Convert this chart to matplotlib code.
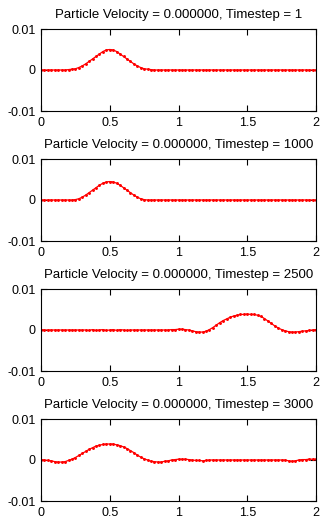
import numpy as np
import matplotlib
matplotlib.use("Agg")
import matplotlib.pyplot as plt

plt.rcParams['font.family'] = ['Liberation Sans', 'DejaVu Sans']
plt.rcParams['axes.unicode_minus'] = False

x = np.round(np.arange(0, 81) * 0.025, 3)

titles = [
    "Particle Velocity = 0.000000, Timestep = 1",
    "Particle Velocity = 0.000000, Timestep = 1000",
    "Particle Velocity = 0.000000, Timestep = 2500",
    "Particle Velocity = 0.000000, Timestep = 3000",
]

y_t1 = [
    0, 0, 0, 0, 0, 0, 0, 0, 0.0001, 0.0002,
    0.0003, 0.0006, 0.0010, 0.0015, 0.0021, 0.0027, 0.0033, 0.0039, 0.0045, 0.0049,
    0.0050, 0.0049, 0.0045, 0.0039, 0.0033, 0.0027, 0.0021, 0.0015, 0.0010, 0.0006,
    0.0003, 0.0002, 0.0001, 0, 0, 0, 0, 0, 0, 0,
    0, 0, 0, 0, 0, 0, 0, 0, 0, 0,
    0, 0, 0, 0, 0, 0, 0, 0, 0, 0,
    0, 0, 0, 0, 0, 0, 0, 0, 0, 0,
    0, 0, 0, 0, 0, 0, 0, 0, 0, 0,
    0,
]

y_t1000 = [
    0, 0, 0, 0, 0, 0, 0, 0, 0, 0,
    0.0001, 0.0003, 0.0007, 0.0012, 0.0018, 0.0024, 0.0030, 0.0036, 0.0041, 0.0044,
    0.0045, 0.0044, 0.0041, 0.0036, 0.0030, 0.0024, 0.0018, 0.0012, 0.0007, 0.0003,
    0.0001, 0, 0, 0, 0, 0, 0, 0, 0, 0,
    0, 0, 0, 0, 0, 0, 0, 0, 0, 0,
    0, 0, 0, 0, 0, 0, 0, 0, 0, 0,
    0, 0, 0, 0, 0, 0, 0, 0, 0, 0,
    0, 0, 0, 0, 0, 0, 0, 0, 0, 0,
    0,
]

y_t2500 = [
    0.0001, 0, 0, 0, 0, 0, 0, 0, 0, 0,
    0, 0, 0, 0, -0.0001, 0.0001, -0.0001, 0, 0.0001, -0.0001,
    0, 0.0001, -0.0001, 0.0001, 0, -0.0001, 0, 0, 0, 0,
    0, 0, 0, 0, 0, 0, 0, 0, 0.0001, 0.0001,
    0.0002, 0.0002, 0.0001, 0, -0.0002, -0.0004, -0.0005, -0.0005, -0.0003, 0.0001,
    0.0006, 0.0012, 0.0018, 0.0023, 0.0027, 0.0031, 0.0034, 0.0036, 0.0038, 0.0038,
    0.0039, 0.0038, 0.0038, 0.0036, 0.0033, 0.0028, 0.0022, 0.0016, 0.0010, 0.0005,
    0.0001, -0.0002, -0.0004, -0.0005, -0.0005, -0.0004, -0.0003, -0.0002, -0.0001, 0,
    0.0001,
]

y_t3000 = [
    0.0001, 0, -0.0001, -0.0002, -0.0004, -0.0005, -0.0005, -0.0004, -0.0001, 0.0002,
    0.0006, 0.0011, 0.0016, 0.0021, 0.0026, 0.0030, 0.0034, 0.0036, 0.0038, 0.0039,
    0.0039, 0.0039, 0.0037, 0.0035, 0.0032, 0.0028, 0.0023, 0.0018, 0.0012, 0.0007,
    0.0003, 0, -0.0003, -0.0004, -0.0005, -0.0005, -0.0003, -0.0002, 0, 0.0001,
    0.0002, 0.0002, 0.0002, 0.0001, 0, -0.0001, -0.0001, -0.0002, -0.0001, 0,
    0, 0, 0, 0, 0, 0, 0, 0, 0, 0,
    0, 0, 0, 0, 0, 0, 0, 0, 0, 0,
    0, 0, -0.0002, -0.0003, -0.0002, 0, 0.0001, 0.0001, 0.0002, 0.0002,
    0.0002,
]

series = [y_t1, y_t1000, y_t2500, y_t3000]
xticks = [0, 0.5, 1, 1.5, 2]
xticklabels = ["0", "0.5", "1", "1.5", "2"]
yticks = [-0.01, 0, 0.01]
yticklabels = ["-0.01", "0", "0.01"]

W, H = 320, 521
fig = plt.figure(figsize=(W / 100, H / 100), dpi=100)

tops = [29, 159, 289, 419]
ax_h = 82
left, right = 41, 316
for top, title, ys in zip(tops, titles, series):
    ax = fig.add_axes([left / W, 1 - (top + ax_h) / H, (right - left) / W, ax_h / H])
    ax.plot(x, ys, color='red', lw=0.9, marker='.', ms=2.2)
    ax.set_xlim(0, 2)
    ax.set_ylim(-0.01, 0.01)
    ax.set_xticks(xticks)
    ax.set_xticklabels(xticklabels)
    ax.set_yticks(yticks)
    ax.set_yticklabels(yticklabels)
    ax.tick_params(direction='in', length=4, width=0.8, top=True, right=True,
                   labelsize=9, pad=4, colors='black')
    for s in ax.spines.values():
        s.set_linewidth(0.8)
    ax.set_title(title, fontsize=9.5, pad=8)

fig.savefig("out.png", dpi=100)
